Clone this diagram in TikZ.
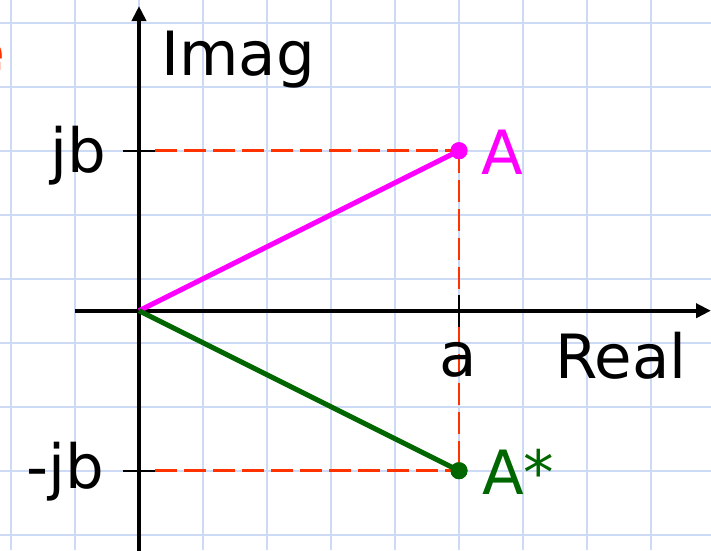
\documentclass[tikz,border=0pt]{standalone}
\usepackage{fontspec}
\setmainfont{DejaVu Sans}
\usetikzlibrary{arrows.meta}
\definecolor{gridc}{RGB}{205,218,246}
\definecolor{dashc}{RGB}{255,51,0}
\definecolor{magc}{RGB}{255,0,255}
\definecolor{grnc}{RGB}{0,102,0}
\tikzset{
  gridline/.style={draw=gridc, line width=2pt},
  axisline/.style={draw=black, line width=4pt, -{Triangle[length=15pt,width=14pt]}},
  tickline/.style={draw=black, line width=2pt},
  guideline/.style={draw=dashc, line width=2.5pt, dash pattern=on 22pt off 7pt},
  vecline/.style={line width=5pt},
  dotnode/.style={circle, inner sep=0pt, minimum size=17pt},
  lbl/.style={inner sep=0pt, font=\fontsize{61}{70}\selectfont},
}
\begin{document}
\begin{tikzpicture}[x=1pt,y=-1pt]
\useasboundingbox (0,0) rectangle (711,550);
\clip (0,0) rectangle (711,550);
\fill[white] (0,0) rectangle (711,550);
% grid
\foreach \gx in {11,75,...,715} \draw[gridline] (\gx,0) -- (\gx,550);
\foreach \gy in {22.7,86.7,...,550} \draw[gridline] (0,\gy) -- (711,\gy);
% partially visible letter
\node[lbl, anchor=base east, text=dashc, font=\fontsize{60}{70}\selectfont\bfseries] (e) at (5,72) {e};
% coordinates
\coordinate (O) at (139,310.7);
\coordinate (ytop) at (139,6);
\coordinate (ybot) at (139,560);
\coordinate (xleft) at (75,310.7);
\coordinate (xright) at (711,310.7);
\coordinate (tjbl) at (123,150.7);
\coordinate (tjbr) at (155,150.7);
\coordinate (tmjbl) at (123,470.7);
\coordinate (tmjbr) at (155,470.7);
\coordinate (tat) at (459,295);
\coordinate (tab) at (459,327);
% dots
\node[dotnode, fill=magc] (A) at (459,150.7) {};
\node[dotnode, fill=grnc] (As) at (459,470.7) {};
% guides
\draw[guideline] (tjbr) -- (A.center);
\draw[guideline] (tmjbr) -- (As.center);
\draw[guideline] (A.center) -- (As.center);
% axes
\draw[axisline] (ybot) -- (ytop);
\draw[axisline] (xleft) -- (xright);
\draw[tickline] (tjbl) -- (tjbr);
\draw[tickline] (tmjbl) -- (tmjbr);
\draw[tickline] (tat) -- (tab);
% vectors
\draw[vecline, magc] (O) -- (A.center);
\draw[vecline, grnc] (O) -- (As.center);
\node[dotnode, fill=magc] at (A) {};
\node[dotnode, fill=grnc] at (As) {};
% labels
\node[lbl, anchor=base west] (imag) at (161,75) {Imag};
\node[lbl, anchor=base west] (real) at (555,378) {Real};
\node[lbl, anchor=base] (alab) at (458,376) {a};
\node[lbl, anchor=base east] (jb) at (106,172) {jb};
\node[lbl, anchor=base east] (mjb) at (104,488) {-jb};
\node[lbl, anchor=base west, text=magc] (Alab) at (481,174) {A};
\node[lbl, anchor=base west, text=grnc] (Aslab) at (482,494) {A*};
\end{tikzpicture}
\end{document}
